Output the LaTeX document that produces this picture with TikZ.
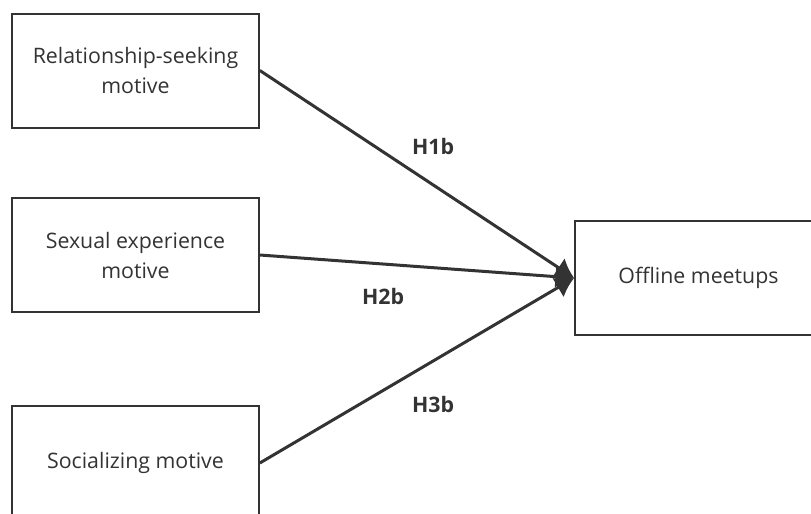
\documentclass[tikz,border=0pt]{standalone}
\usepackage{fontspec}
\setmainfont{Open Sans}
\usetikzlibrary{arrows.meta}

\definecolor{ink}{HTML}{333333}

\begin{document}
\begin{tikzpicture}[x=0.75pt,y=-0.75pt,
    motivebox/.style={draw=ink,line width=1.5pt,text=ink,align=center,
      minimum width=185pt,minimum height=85.5pt,inner sep=0pt,font=\fontsize{16}{22.5}\selectfont},
    hyparrow/.style={draw=ink,line width=2.25pt,-{Latex[length=14pt,width=17pt]}},
    hyplabel/.style={text=ink,font=\fontsize{16}{19}\selectfont\bfseries}]
    \useasboundingbox (0,0) rectangle (811,514);

    % Motives on the left
    \node[motivebox] (rel) at (135.5,70.5) {Relationship-seeking\\motive};
    \node[motivebox] (sex) at (135.5,255) {Sexual experience\\motive};
    \node[motivebox] (soc) at (135.5,463) {Socializing motive};

    % Outcome on the right
    \node[motivebox] (off) at (698.5,278) {Offline meetups};

    % Paths
    \draw[hyparrow] (rel.east) -- (off.west);
    \draw[hyparrow] (sex.east) -- (off.west);
    \draw[hyparrow] (soc.east) -- (off.west);

    % Hypothesis labels
    \node[hyplabel] (h1b) at (433,146) {H1b};
    \node[hyplabel] (h2b) at (383,296) {H2b};
    \node[hyplabel] (h3b) at (433,404) {H3b};
\end{tikzpicture}
\end{document}
